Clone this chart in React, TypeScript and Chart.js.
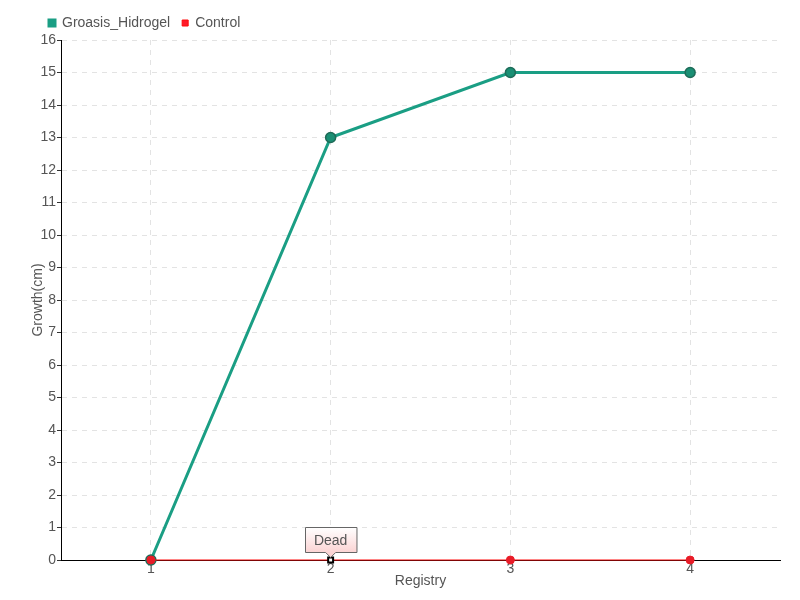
import React, { useEffect, useRef } from "react";
import { Chart, registerables } from "chart.js";

Chart.register(...registerables);

const categories = ["1", "2", "3", "4"];
const groasisValues = [0, 13, 15, 15];
const controlValues = [0, 0, 0, 0];
const annotationLabel = "Dead";
const annotationIndex = 1;

const FONT = "'Liberation Sans', Arial, sans-serif";

const deadPlugin = {
  id: "deadLabel",
  afterDatasetsDraw(chart: any) {
    const meta = chart.getDatasetMeta(1);
    const el = meta.data[annotationIndex];
    if (!el) return;
    const ctx = chart.ctx;
    const x = el.x;
    const y = el.y;
    ctx.save();
    ctx.font = `14px ${FONT}`;
    const tw = ctx.measureText(annotationLabel).width;
    const w = Math.max(50, tw + 18);
    const h = 25;
    const left = Math.round(x - w / 2) + 0.5;
    const bottom = Math.round(y - 8) + 0.5;
    const top = bottom - h;
    const grad = ctx.createLinearGradient(0, top, 0, bottom);
    grad.addColorStop(0, "#ffffff");
    grad.addColorStop(1, "#fbd3d3");
    ctx.beginPath();
    ctx.moveTo(left, top);
    ctx.lineTo(left + w, top);
    ctx.lineTo(left + w, bottom);
    ctx.lineTo(x + 5, bottom);
    ctx.lineTo(x, bottom + 5);
    ctx.lineTo(x - 5, bottom);
    ctx.lineTo(left, bottom);
    ctx.closePath();
    ctx.fillStyle = grad;
    ctx.fill();
    ctx.strokeStyle = "#666666";
    ctx.lineWidth = 1;
    ctx.stroke();
    ctx.fillStyle = "#555555";
    ctx.textAlign = "center";
    ctx.textBaseline = "middle";
    ctx.fillText(annotationLabel, x, top + h / 2 + 1);
    ctx.restore();
  },
};

export default function App() {
  const ref = useRef<HTMLCanvasElement>(null);
  useEffect(() => {
    document.body.style.margin = "0";
    const canvas = ref.current!;
    const chart = new Chart(canvas, {
      type: "line",
      data: {
        labels: categories,
        datasets: [
          {
            label: "Groasis_Hidrogel",
            data: groasisValues,
            borderColor: "#1a9e84",
            backgroundColor: "#1a9e84",
            borderWidth: 3,
            pointRadius: 5,
            pointBackgroundColor: "#1a8f74",
            pointBorderColor: "#1e6b58",
            pointBorderWidth: 1.5,
            tension: 0,
            clip: false,
            order: 2,
          },
          {
            label: "Control",
            data: controlValues,
            borderColor: "#ff0a0a",
            backgroundColor: "#ff1a2a",
            borderWidth: 1,
            pointRadius: controlValues.map((_, i) => (i === annotationIndex ? 3.5 : 4)),
            pointStyle: controlValues.map((_, i) => (i === annotationIndex ? "rect" : "circle")) as any,
            pointBackgroundColor: controlValues.map((_, i) => (i === annotationIndex ? "#ffffff" : "#e81c28")),
            pointBorderColor: controlValues.map((_, i) => (i === annotationIndex ? "#000000" : "#e81c28")),
            pointBorderWidth: controlValues.map((_, i) => (i === annotationIndex ? 2 : 1)),
            tension: 0,
            clip: false,
            order: 1,
          },
        ],
      },
      options: {
        animation: false,
        responsive: false,
        layout: { padding: { left: 37, right: 20, top: 4, bottom: 12 } },
        plugins: {
          legend: {
            align: "start",
            labels: {
              boxWidth: 6,
              boxHeight: 6,
              padding: 12,
              color: "#555555",
              font: { family: FONT, size: 14 },
              sort: (a: any, b: any) => a.datasetIndex - b.datasetIndex,
            },
          },
          tooltip: { enabled: false },
        },
        scales: {
          x: {
            offset: true,
            afterFit: (s: any) => {
              s.height = 28;
            },
            grid: {
              offset: false,
              color: "#e3e3e3",
              drawTicks: false,
            },
            border: { color: "#000000", dash: [5, 5] as any, display: true },
            ticks: { color: "#555555", font: { family: FONT, size: 14, lineHeight: 1 }, padding: 2 },
            title: {
              display: true,
              text: "Registry",
              color: "#555555",
              font: { family: FONT, size: 14, lineHeight: 1 },
              padding: { top: 0, bottom: 0 },
            },
          },
          y: {
            min: 0,
            max: 16,
            afterFit: (s: any) => {
              s.width = 24;
            },
            ticks: { stepSize: 1, color: "#555555", font: { family: FONT, size: 14 }, padding: 1 },
            grid: {
              color: "#e3e3e3",
              tickColor: "#333333",
              tickLength: 4,
            },
            border: { color: "#000000", dash: [5, 5] as any },
            title: {
              display: true,
              text: "Growth(cm)",
              color: "#555555",
              font: { family: FONT, size: 14, lineHeight: 1 },
              padding: { top: -6, bottom: 0 },
            },
          },
        },
      },
      plugins: [deadPlugin],
    } as any);
    return () => chart.destroy();
  }, []);
  return <canvas ref={ref} width={800} height={600} style={{ display: "block" }} />;
}
